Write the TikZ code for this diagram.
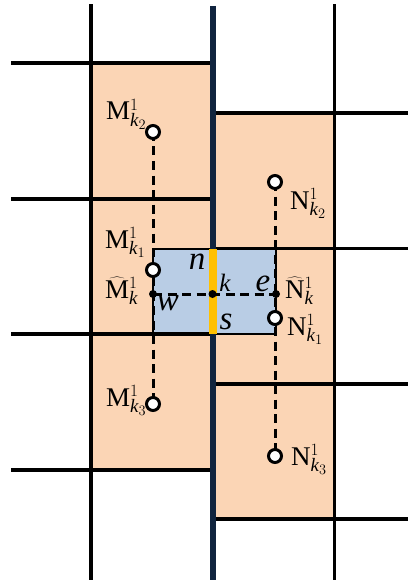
\documentclass[tikz,border=0pt]{standalone}
\usepackage{fontspec}
\setmainfont{Liberation Serif}
\definecolor{peach}{HTML}{FBD5B5}
\definecolor{lblue}{HTML}{B9CDE5}
\definecolor{navy}{HTML}{10243E}
\definecolor{gold}{HTML}{FFC000}
\begin{document}
\begin{tikzpicture}[x=1pt,y=-1pt,
  gridline/.style={line width=3.3pt, line cap=rect},
  dashline/.style={line width=3pt, dash pattern=on 9pt off 5.5pt},
  hollow/.style={circle, draw, line width=3pt, fill=white, minimum size=13pt, inner sep=0pt},
  dotnode/.style={circle, fill, minimum size=8pt, inner sep=0pt},
  lbl/.style={anchor=base west, inner sep=0pt, font=\fontsize{27}{32}\selectfont},
  face/.style={anchor=base, inner sep=0pt, font=\fontsize{33}{38}\selectfont\itshape},
  cen/.style={anchor=base, inner sep=0pt, font=\fontsize{25}{30}\selectfont\itshape}]
\useasboundingbox (0,0) rectangle (407,580);
% fills
\fill[peach] (91,63) rectangle (212,470);
\fill[peach] (212,113) rectangle (334,519);
\fill[lblue] (153,249) rectangle (276,334);
% grid
\draw[gridline] (91,6) -- (91,580);
\draw[gridline] (334.5,6) -- (334.5,580);
\foreach \y in {63,199,334,470} \draw[gridline] (13,\y) -- (212,\y);
\foreach \y in {113,248.5,384,519} \draw[gridline] (212,\y) -- (407,\y);
% control volume
\draw[line width=2.8pt] (153,249) rectangle (276,334);
% interface line
\draw[navy, line width=6pt] (212.5,6) -- (212.5,580);
\fill[gold] (208.5,249) rectangle (216.5,334);
% points
\coordinate (Mk2) at (153,132);
\coordinate (Mk1) at (153,270);
\coordinate (Mk3) at (153,404);
\coordinate (Nk2) at (275,182);
\coordinate (Nk1) at (275,318);
\coordinate (Nk3) at (275,456);
\coordinate (Mh) at (153,294);
\coordinate (K) at (212.5,294);
\coordinate (Nh) at (276,294);
\draw[dashline] (Mk2) -- (Mk3);
\draw[dashline] (Nk2) -- (Nk3);
\draw[dashline] (Mh) -- (Nh);
\foreach \p in {Mk2,Mk1,Mk3,Nk2,Nk1,Nk3} \node[hollow] at (\p) {};
\foreach \p in {Mh,K,Nh} \node[dotnode] at (\p) {};
% labels
\node[lbl] (lMk2) at (106,120) {$\mathrm{M}^{1}_{\mathit{k}_{2}}$};
\node[lbl] (lMk1) at (105,248) {$\mathrm{M}^{1}_{\mathit{k}_{1}}$};
\node[lbl] (lMh) at (105,298) {$\widehat{\mathrm{M}}^{1}_{\mathit{k}}$};
\node[lbl] (lMk3) at (106,406) {$\mathrm{M}^{1}_{\mathit{k}_{3}}$};
\node[lbl] (lNk2) at (290,209) {$\mathrm{N}^{1}_{\mathit{k}_{2}}$};
\node[lbl] (lNh) at (285,298) {$\widehat{\mathrm{N}}^{1}_{\mathit{k}}$};
\node[lbl] (lNk1) at (287,335) {$\mathrm{N}^{1}_{\mathit{k}_{1}}$};
\node[lbl] (lNk3) at (291,465) {$\mathrm{N}^{1}_{\mathit{k}_{3}}$};
\node[face] (tn) at (197,269) {n};
\node[face] (te) at (263,291) {e};
\node[face] (tw) at (168,310) {w};
\node[face] (ts) at (226,329) {s};
\node[cen] (tk) at (225,291) {k};
\end{tikzpicture}
\end{document}
